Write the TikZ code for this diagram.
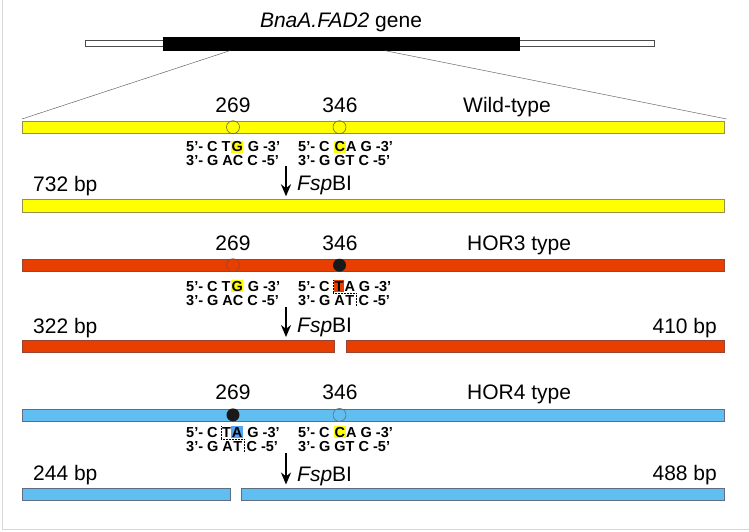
\documentclass[tikz,border=0pt]{standalone}
\usepackage{fontspec}
\setmainfont{Liberation Sans}
\usetikzlibrary{positioning,arrows.meta}

\definecolor{wtyellow}{RGB}{255,255,0}
\definecolor{wtedge}{RGB}{150,145,70}
\definecolor{siteedge}{RGB}{110,105,50}
\definecolor{horred}{RGB}{232,62,0}
\definecolor{rededge}{RGB}{150,70,50}
\definecolor{horblue}{RGB}{96,190,240}
\definecolor{blueedge}{RGB}{95,110,130}
\definecolor{framegray}{RGB}{215,215,215}

\begin{document}
\begin{tikzpicture}[x=1pt,y=-1pt,
  bar/.style={line width=0.6pt, inner sep=0pt, anchor=north west, minimum height=12.3pt},
  wt/.style={bar, draw=wtedge, fill=wtyellow},
  hor3/.style={bar, draw=rededge, fill=horred},
  hor4/.style={bar, draw=blueedge, fill=horblue},
  site/.style={circle, draw=#1, line width=0.6pt, minimum size=13pt, inner sep=0pt},
  hit/.style={circle, fill=black!90, minimum size=13pt, inner sep=0pt},
  lbl/.style={font=\fontsize{21}{21}\selectfont, inner sep=0pt, anchor=base},
  seq/.style={font=\fontsize{14.5}{14.5}\selectfont\bfseries, inner sep=0pt, anchor=base west,
    text height=10.6pt, text depth=0.8pt},
  cut/.style={densely dotted, line width=0.5pt},
  enz/.style={-{Stealth[length=12pt,width=10pt]}, line width=1.9pt, shorten >=3pt}]
\useasboundingbox (0,0) rectangle (749,531);
\draw[framegray, line width=0.8pt] (2,0) -- (2,529.5) -- (749,529.5);

% gene
\node[lbl] (title) at (341,27) {\textit{BnaA.FAD2} gene};
\node[draw=black!70, fill=white, line width=0.6pt, minimum width=569pt, minimum height=6pt, inner sep=0pt] (gene) at (369.5,43.5) {};
\node[fill=black, minimum width=357pt, minimum height=14pt, inner sep=0pt] (cds) at (341.5,43.5) {};

% wild-type
\node[wt, minimum width=702pt] (wtfull) at (22,121) {};
\draw[black!60, line width=0.5pt] ([xshift=67pt]cds.south west) -- ([yshift=2pt]wtfull.north west);
\draw[black!60, line width=0.5pt] ([xshift=-135pt]cds.south east) -- ([xshift=2pt,yshift=2pt]wtfull.north east);
\node[site=siteedge] (w269) at (233,127.2) {};
\node[site=siteedge] (w346) at (339.5,127.2) {};
\node[lbl] (wl269) at (233,112) {269};
\node[lbl] (wl346) at (340,112) {346};
\node[lbl, anchor=base west] (wtname) at (463,112) {Wild-type};
\node[seq] (w1a) at (186,151.7) {5’- C T};
\node[seq, fill=wtyellow, inner xsep=0.6pt] (w1g) at (w1a.base east) {G};
\node[seq] (w1b) at (w1g.base east) {\ G -3’};
\node[seq] (w2) at (186,165.5) {3’- G AC C -5’};
\node[seq] (w3a) at (298,151.7) {5’- C\ \null};
\node[seq, fill=wtyellow, inner xsep=0.6pt] (w3c) at (w3a.base east) {C};
\node[seq] (w3b) at (w3c.base east) {A G -3’};
\node[seq] (w4) at (298,165.5) {3’- G GT C -5’};
\node[wt, minimum width=702pt] (wtcut) at (22,199.3) {};
\coordinate (wtarr) at (286,166);
\draw[enz] (wtarr) -- (wtarr |- wtcut.north);
\node[lbl, anchor=base west] (wtfsp) at (297,190) {\textit{Fsp}BI};
\node[lbl, anchor=base west] (wt732) at (33,191.7) {732 bp};

% HOR3
\node[hor3, minimum width=702pt] (r3full) at (22,259) {};
\node[site=rededge] (r269) at (233,265.2) {};
\node[hit] (r346) at (339.5,265.2) {};
\node[lbl] (rl269) at (233,250) {269};
\node[lbl] (rl346) at (340,250) {346};
\node[lbl, anchor=base west] (r3name) at (467,250) {HOR3 type};
\node[seq] (r1a) at (186,291) {5’- C T};
\node[seq, fill=wtyellow, inner xsep=0.6pt] (r1g) at (r1a.base east) {G};
\node[seq] (r1b) at (r1g.base east) {\ G -3’};
\node[seq] (r2) at (186,305) {3’- G AC C -5’};
\node[seq] (r3a) at (298,291) {5’- C\ \null};
\node[seq, fill=horred, inner xsep=0.6pt] (r3t) at (r3a.base east) {T};
\node[seq] (r3b) at (r3t.base east) {A G -3’};
\node[seq] (r4a) at (298,305) {3’- G A};
\node[seq] (r4t) at (r4a.base east) {T};
\node[seq] (r4b) at (r4t.base east) {\ C -5’};
\draw[cut] ([xshift=-1pt]r3t.north west) -- ([xshift=-1pt,yshift=-1.3pt]r3t.south west)
  -| ([xshift=1.6pt]r4t.south east);
\node[hor3, minimum width=312pt] (r3left) at (22,340) {};
\node[hor3, minimum width=378pt] (r3right) at (346,340) {};
\coordinate (r3arr) at (286,307);
\draw[enz] (r3arr) -- (r3arr |- r3left.north);
\node[lbl, anchor=base west] (r3fsp) at (297,332.3) {\textit{Fsp}BI};
\node[lbl, anchor=base west] (r3322) at (33,333.3) {322 bp};
\node[lbl, anchor=base east] (r3410) at (717,333.3) {410 bp};

% HOR4
\node[hor4, minimum width=702pt] (r4full) at (22,408.7) {};
\node[hit] (b269) at (233,414.9) {};
\node[site=blueedge] (b346) at (339.5,414.9) {};
\node[lbl] (bl269) at (233,399.5) {269};
\node[lbl] (bl346) at (340,399.5) {346};
\node[lbl, anchor=base west] (r4name) at (467,399.5) {HOR4 type};
\node[seq] (b1a) at (186,437) {5’- C\ \null};
\node[seq] (b1t) at (b1a.base east) {T};
\node[seq, fill=horblue!85!blue, inner xsep=0.6pt] (b1x) at (b1t.base east) {A};
\node[seq] (b1b) at (b1x.base east) {\ G -3’};
\node[seq] (b2a) at (186,451) {3’- G A};
\node[seq] (b2t) at (b2a.base east) {T};
\node[seq] (b2b) at (b2t.base east) {\ C -5’};
\draw[cut] ([xshift=-1pt]b1t.north west) -- ([xshift=-1pt,yshift=-1.3pt]b1t.south west)
  -| ([xshift=1.6pt]b2t.south east);
\node[seq] (b3a) at (298,437) {5’- C\ \null};
\node[seq, fill=wtyellow, inner xsep=0.6pt] (b3c) at (b3a.base east) {C};
\node[seq] (b3b) at (b3c.base east) {A G -3’};
\node[seq] (b4) at (298,451) {3’- G GT C -5’};
\node[hor4, minimum width=208pt] (r4left) at (22,487.5) {};
\node[hor4, minimum width=483pt] (r4right) at (241,487.5) {};
\coordinate (r4arr) at (286,453);
\draw[enz] (r4arr) -- (r4arr |- r4right.north);
\node[lbl, anchor=base west] (r4fsp) at (297,481.7) {\textit{Fsp}BI};
\node[lbl, anchor=base west] (r4244) at (33,480) {244 bp};
\node[lbl, anchor=base east] (r4488) at (717,480) {488 bp};
\end{tikzpicture}
\end{document}
